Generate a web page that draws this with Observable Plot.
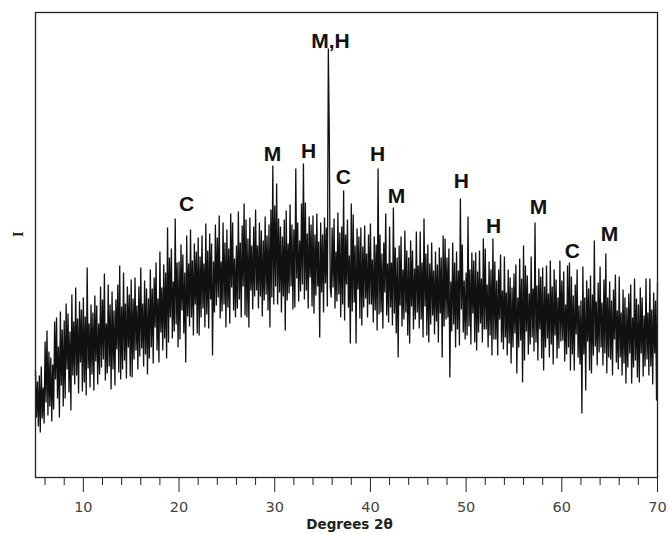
<!DOCTYPE html>
<html><head><meta charset="utf-8">
<script src="https://cdn.jsdelivr.net/npm/d3@7"></script>
<script src="https://cdn.jsdelivr.net/npm/@observablehq/plot@0.6"></script>
<style>
body{margin:0;background:#fff}
#chart svg [aria-label="x-axis tick label"] text{fill:#444}
</style>
</head><body><div id="chart"></div>
<script>
// 2θ scan grid
const twoThetaStart = 5;
const twoThetaStep = 0.1;
// intensity (a.u.), 10 samples per degree
const intensity = [
/* 5 */ 107, 60, 96, 51, 102, 45, 111, 59, 90, 54,
/* 6 */ 136, 75, 147, 62, 126, 71, 120, 56, 113, 68,
/* 7 */ 156, 98, 160, 79, 131, 60, 166, 92, 148, 71,
/* 8 */ 157, 79, 174, 108, 164, 85, 146, 67, 183, 102,
/* 9 */ 156, 93, 190, 102, 159, 84, 176, 115, 168, 86,
/*10 */ 180, 95, 161, 82, 210, 109, 154, 90, 173, 103,
/*11 */ 165, 87, 182, 116, 172, 93, 154, 103, 191, 110,
/*12 */ 178, 118, 204, 97, 154, 104, 193, 111, 173, 88,
/*13 */ 186, 108, 167, 92, 178, 128, 193, 105, 212, 98,
/*14 */ 171, 108, 205, 117, 174, 99, 191, 130, 183, 101,
/*15 */ 198, 100, 179, 118, 200, 127, 172, 108, 191, 121,
/*16 */ 210, 129, 174, 111, 197, 123, 189, 103, 179, 119,
/*17 */ 208, 130, 189, 114, 200, 150, 215, 127, 179, 115,
/*18 */ 226, 145, 190, 127, 213, 139, 205, 119, 250, 135,
/*19 */ 220, 160, 229, 139, 196, 146, 259, 153, 215, 130,
/*20 */ 216, 138, 233, 167, 223, 144, 205, 115, 242, 161,
/*21 */ 214, 151, 248, 160, 217, 142, 234, 173, 226, 144,
/*22 */ 240, 142, 221, 160, 242, 169, 214, 150, 254, 163,
/*23 */ 227, 149, 244, 178, 234, 122, 216, 165, 253, 172,
/*24 */ 240, 180, 262, 159, 216, 166, 255, 173, 235, 150,
/*25 */ 248, 170, 229, 154, 264, 190, 255, 167, 219, 160,
/*26 */ 232, 169, 266, 178, 235, 160, 252, 191, 274, 162,
/*27 */ 258, 160, 239, 150, 260, 187, 232, 168, 251, 181,
/*28 */ 268, 187, 232, 169, 255, 181, 247, 161, 237, 177,
/*29 */ 261, 183, 242, 167, 253, 150, 268, 180, 312, 173,
/*30 */ 272, 191, 294, 173, 259, 185, 251, 165, 241, 181,
/*31 */ 258, 147, 267, 177, 234, 184, 273, 191, 253, 168,
/*32 */ 248, 170, 309, 199, 255, 176, 237, 186, 274, 193,
/*33 */ 314, 178, 275, 187, 244, 169, 261, 200, 253, 171,
/*34 */ 262, 164, 243, 182, 264, 191, 236, 140, 255, 185,
/*35 */ 243, 165, 260, 194, 250, 171, 429, 345, 190, 180,
/*36 */ 250, 190, 259, 169, 226, 176, 265, 183, 245, 160,
/*37 */ 251, 173, 287, 157, 243, 193, 258, 170, 222, 134,
/*38 */ 274, 166, 263, 175, 232, 134, 249, 188, 241, 159,
/*39 */ 250, 152, 231, 170, 252, 179, 224, 160, 243, 173,
/*40 */ 254, 173, 218, 155, 241, 167, 233, 147, 309, 163,
/*41 */ 243, 165, 224, 149, 235, 185, 264, 162, 214, 155,
/*42 */ 251, 170, 215, 152, 270, 164, 230, 144, 220, 120,
/*43 */ 232, 172, 241, 151, 208, 158, 247, 165, 227, 142,
/*44 */ 220, 134, 237, 171, 227, 148, 209, 158, 246, 165,
/*45 */ 212, 149, 246, 158, 215, 140, 259, 171, 224, 142,
/*46 */ 233, 135, 214, 153, 235, 162, 207, 143, 226, 156,
/*47 */ 213, 135, 230, 164, 220, 120, 242, 151, 239, 158,
/*48 */ 220, 160, 229, 100, 196, 146, 235, 153, 215, 130,
/*49 */ 226, 148, 207, 132, 279, 168, 233, 145, 197, 138,
/*50 */ 205, 142, 261, 151, 208, 133, 225, 164, 217, 135,
/*51 */ 225, 127, 206, 145, 227, 154, 199, 135, 239, 148,
/*52 */ 229, 148, 193, 130, 216, 142, 208, 122, 239, 138,
/*53 */ 216, 138, 197, 122, 208, 158, 223, 135, 187, 128,
/*54 */ 221, 140, 185, 122, 208, 134, 200, 114, 190, 130,
/*55 */ 204, 144, 213, 104, 180, 130, 219, 137, 199, 95,
/*56 */ 232, 117, 212, 146, 202, 123, 184, 133, 221, 140,
/*57 */ 189, 126, 255, 135, 192, 117, 209, 148, 201, 119,
/*58 */ 210, 107, 191, 130, 212, 139, 184, 120, 217, 133,
/*59 */ 191, 113, 208, 142, 198, 119, 180, 129, 217, 136,
/*60 */ 197, 137, 206, 116, 173, 123, 212, 130, 215, 107,
/*61 */ 201, 123, 182, 107, 193, 143, 208, 120, 172, 113,
/*62 */ 177, 64, 211, 123, 180, 87, 197, 136, 189, 107,
/*63 */ 202, 104, 183, 122, 237, 131, 176, 112, 195, 125,
/*64 */ 211, 130, 175, 112, 198, 124, 224, 104, 180, 120,
/*65 */ 196, 118, 177, 102, 188, 138, 203, 115, 167, 108,
/*66 */ 201, 120, 165, 102, 188, 114, 180, 94, 170, 110,
/*67 */ 184, 124, 193, 94, 160, 110, 199, 117, 179, 100,
/*68 */ 173, 95, 190, 124, 180, 101, 162, 111, 199, 118,
/*69 */ 165, 102, 199, 111, 168, 93, 185, 124, 177, 77,
/*70 */ 195
];
// phase labels (C, M, H) placed above their reflections
const peakLabels = ["C", "M", "H", "M,H", "C", "H", "M", "H", "H", "M", "C", "M"];
const peakLabelAngle = [20.78, 29.77, 33.53, 35.83, 37.18, 40.74, 42.72, 49.51, 52.86, 57.56, 61.11, 64.98];
const peakLabelIntensity = [267, 317, 320, 430, 294, 317, 275, 290, 245, 264, 220, 237];
// x ticks
const majorTicks = [10, 20, 30, 40, 50, 60, 70];
const minorTicks = [6, 8, 12, 14, 16, 18, 22, 24, 26, 28, 32, 34, 36, 38, 42, 44, 46, 48, 52, 54, 56, 58, 62, 64, 66, 68];
const xLabel = "Degrees 2θ";
const yLabel = "I";

const scan = intensity.map((v, i) => ({angle: +(twoThetaStart + i * twoThetaStep).toFixed(2), value: v}));
const labels = peakLabels.map((t, i) => ({t, angle: peakLabelAngle[i], value: peakLabelIntensity[i]}));

const chart = Plot.plot({
  width: 668,
  height: 533,
  marginLeft: 35,
  marginRight: 11,
  marginTop: 12,
  marginBottom: 56,
  x: {domain: [5, 70]},
  y: {domain: [0, 465], axis: null},
  style: {fontFamily: "'DejaVu Sans', Verdana, sans-serif", background: "#fff", overflow: "visible"},
  marks: [
    Plot.line(scan, {x: "angle", y: "value", stroke: "#111", strokeWidth: 1.3, strokeLinejoin: "miter"}),
    Plot.frame({stroke: "#222", strokeWidth: 1.3}),
    Plot.axisX({ticks: minorTicks, tickSize: 8, tickFormat: () => "", label: null, stroke: "#222"}),
    Plot.axisX({ticks: majorTicks, tickSize: 15, tickPadding: 9, fontSize: 14.5, label: null, stroke: "#222"}),
    Plot.text(labels, {x: "angle", y: "value", text: "t", lineAnchor: "bottom", fontSize: 21, fontWeight: "bold",
      fontFamily: "'Liberation Sans', Arial, sans-serif", fill: "#111"}),
    Plot.text([xLabel], {text: d => d, frameAnchor: "bottom", dx: 3, dy: 51, lineAnchor: "bottom",
      fontWeight: "bold", fontSize: 13.5, fill: "#222"}),
    Plot.text([yLabel], {text: d => d, frameAnchor: "left", dx: -17, dy: -8, rotate: -90,
      fontFamily: "'Liberation Serif', serif", fontWeight: "bold", fontSize: 14, fill: "#111"})
  ]
});
document.getElementById("chart").appendChild(chart);
</script>
</body></html>
